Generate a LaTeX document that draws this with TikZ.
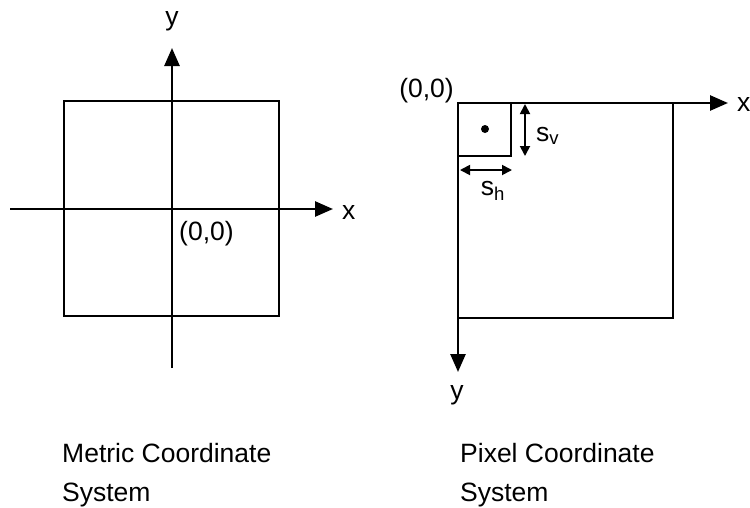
\documentclass[tikz,border=0pt]{standalone}
\usepackage{fontspec}
\setmainfont{Liberation Sans}
\usetikzlibrary{arrows.meta, positioning, calc}

\begin{document}
\begin{tikzpicture}[
    x=1pt, y=-1pt,
    axis/.style={line width=2.6pt, -{Triangle[length=18pt,width=15pt]}},
    frame/.style={draw, line width=2.6pt},
    dim/.style={line width=1.8pt, {Triangle[length=10pt,width=10pt]}-{Triangle[length=10pt,width=10pt]}},
    txt/.style={font=\fontsize{26.5}{39}\selectfont, inner sep=0pt},
    caption/.style={txt, align=left, anchor=north west}
]
    \useasboundingbox (0,0) rectangle (750,507);

    \coordinate (mo) at (172,209);
    \coordinate (mxl) at (10,209);
    \coordinate (mxr) at (333,209);
    \coordinate (myb) at (172,368);
    \coordinate (myt) at (172,48);
    \draw[frame] (64,101) rectangle (279,316);
    \draw[axis] (mxl) -- (mxr);
    \draw[axis] (myb) -- (myt);
    \node[txt, anchor=west] (mx) at (342,212) {x};
    \node[txt] (my) at (172,21) {y};
    \node[txt, anchor=west] (mol) at (179,234) {(0,0)};
    \node[caption] (mcap) at (62,443) {Metric Coordinate\\System};

    \coordinate (po) at (458,103);
    \coordinate (pxr) at (728,103);
    \coordinate (pyb) at (458,372);
    \draw[frame] (po) rectangle (673,318);
    \draw[frame, line width=2pt] (po) rectangle (511,156);
    \fill (485,129) coordinate (pc) circle (4pt);
    \draw[axis] (po) -- (pxr);
    \draw[axis] (po) -- (pyb);
    \coordinate (svt) at (525,104);
    \coordinate (svb) at (525,156);
    \coordinate (shl) at (460,170);
    \coordinate (shr) at (512,170);
    \draw[dim] (svt) -- (svb);
    \draw[dim] (shl) -- (shr);
    \node[txt, anchor=west] (sv) at (536,136) {s\textsubscript{v}};
    \node[txt] (sh) at (493,191) {s\textsubscript{h}};
    \node[txt, anchor=east] (pol) at (454,91) {(0,0)};
    \node[txt, anchor=west] (px) at (737,104) {x};
    \node[txt] (py) at (457,395) {y};
    \node[caption] (pcap) at (460,443) {Pixel Coordinate\\System};
\end{tikzpicture}
\end{document}
